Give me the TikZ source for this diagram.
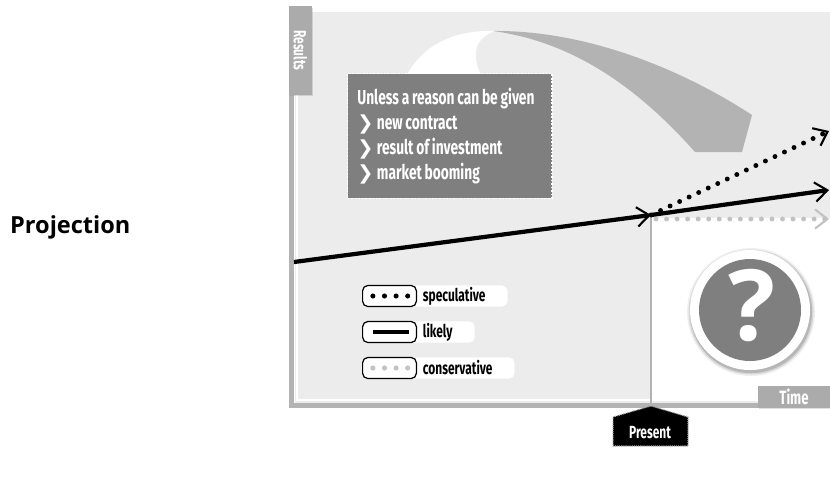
\documentclass[tikz,border=0pt]{standalone}
\usepackage{fontspec}
\setmainfont{Fira Sans}
\newfontfamily\headfont{Open Sans}
\newfontfamily\condfont[FakeStretch=0.68,WordSpace=0.85]{Fira Sans}
\newfontfamily\symfont{DejaVu Sans}
\newcommand\chev{{\symfont\fontsize{11}{12}\selectfont ❯}}
\usepackage{tikz}
\usetikzlibrary{positioning,arrows.meta,calc,shadows}
\definecolor{PanelGray}{HTML}{ECECEC}
\definecolor{AxisGray}{HTML}{B3B3B3}
\definecolor{TabGray}{HTML}{ABABAB}
\definecolor{BoxGray}{HTML}{7F7F7F}
\definecolor{DotGray}{HTML}{C2C2C2}

\begin{document}
\begin{tikzpicture}[x=0.02cm,y=-0.02cm,
    every node/.style={font=\condfont\bfseries\fontsize{10}{12}\selectfont},
    barb/.style={-{Straight Barb[length=7pt,width=11pt,line width=1.2pt]}},
    likely/.style={barb,line width=2.4pt},
    speculative/.style={barb,line width=2.8pt,line cap=round,dash pattern=on 0pt off 6pt},
    conservative/.style={barb,DotGray,line width=2.8pt,line cap=round,dash pattern=on 0pt off 6pt},
    tab/.style={fill=TabGray,text=white,inner sep=0pt,
                drop shadow={shadow xshift=0.8pt,shadow yshift=-0.8pt,opacity=0.25}},
    legpill/.style={fill=white,rounded corners=3pt,minimum height=12pt,inner sep=0pt,anchor=west},
    legicon/.style={draw=black,line width=0.7pt,fill=white,rounded corners=3pt,
                    minimum width=30.6pt,minimum height=12pt,inner sep=0pt,anchor=west},
    legspec/.style={line width=2.9pt,line cap=round,dash pattern=on 0pt off 6.6pt},
    leglike/.style={line width=2.6pt},
    legcons/.style={DotGray,line width=2.9pt,line cap=round,dash pattern=on 0pt off 6.6pt}]
  \useasboundingbox (0,0) rectangle (830,481);

  % title on the left
  \node[anchor=west,font=\headfont\bfseries\fontsize{13.4}{16}\selectfont] (title) at (4,227) {Projection};

  % chart panel, future area and axes
  \fill[PanelGray] (295,12) rectangle (830,403);
  \fill[white] (651,218) rectangle (830,401);
  \draw[white,line width=1.5pt] (297,12) -- (297,400) -- (830,400);
  \fill[AxisGray] (289,12) rectangle (294,408);
  \fill[AxisGray] (289,403) rectangle (830,408);

  % swoosh behind the note
  \fill[white] (405,78) .. controls (425,40) and (460,30) .. (495,31)
               .. controls (476,38) and (470,52) .. (482,78) -- cycle;
  \fill[AxisGray] (493,31) .. controls (585,30) and (680,68) .. (752,115)
                  -- (742,152) -- (695,152)
                  .. controls (640,90) and (575,42) .. (493,31) -- cycle;

  % note
  \node[fill=BoxGray,draw=white,line width=0.8pt,dash pattern=on 1pt off 1pt,
        anchor=north west,minimum height=71pt,inner xsep=5.5pt,
        align=left,text=white,
        font=\condfont\bfseries\fontsize{11.5}{14.2}\selectfont] (reason) at (347,73)
    {Unless a reason can be given\hspace*{4.5pt}\\
     \chev\,new contract\\
     \chev\,result of investment\\
     \chev\,market booming};

  % trend lines
  \coordinate (start) at (294,262);
  \coordinate (now) at (651,215);
  \coordinate (likelyend) at (829,190);
  \coordinate (specend) at (829,131);
  \coordinate (consstart) at (656,219);
  \coordinate (consend) at (829,219);
  \draw[AxisGray,line width=1.1pt] (now) -- (651,404);
  \draw[conservative] (consstart) -- (consend);
  \draw[speculative] (now) -- (specend);
  \draw[likely] (start) -- (now);
  \draw[likely] (now) -- (likelyend);

  % legend
  \foreach \nm/\yy/\lab/\st in {spec/296/speculative/legspec,
                                like/332/likely/leglike,
                                cons/368/conservative/legcons}{
    \node[legpill] (\nm pill) at (362,\yy) {\hspace*{34.5pt}\lab\hspace*{12.5pt}};
    \node[legicon] (\nm icon) at (362,\yy) {};
    \draw[\st] ([xshift=6.2pt]\nm icon.west) -- ([xshift=-4.5pt]\nm icon.east);
  }

  % question mark
  \foreach \r/\op in {64/0.06,62.5/0.1,61/0.15}
    \fill[black,opacity=\op] (751,312) circle[radius=\r];
  \fill[white] (750,310) circle[radius=60];
  \fill[BoxGray] (750,310) circle[radius=51];
  \node[text=white,font=\headfont\bfseries\fontsize{56}{58}\selectfont] (qmark) at (752,306) {?};

  % axis tabs
  \node[tab,rotate=-90,minimum width=50.5pt,minimum height=13pt] (results) at (300.5,50.5) {Results};
  \node[tab,minimum width=41.5pt,minimum height=12.5pt,font=\condfont\bfseries\fontsize{11}{12}\selectfont] (time) at (794,397) {Time};

  % present marker
  \fill[black] (613,417) -- (651,406) -- (688,417) -- (688,446) -- (613,446) -- cycle;
  \draw[white!70!black,line width=0.6pt,dash pattern=on 0.6pt off 0.6pt]
    (613,417) -- (651,406) -- (688,417) -- (688,446) -- (613,446) -- cycle;
  \node[text=white] (present) at (650,433) {Present};
\end{tikzpicture}
\end{document}
